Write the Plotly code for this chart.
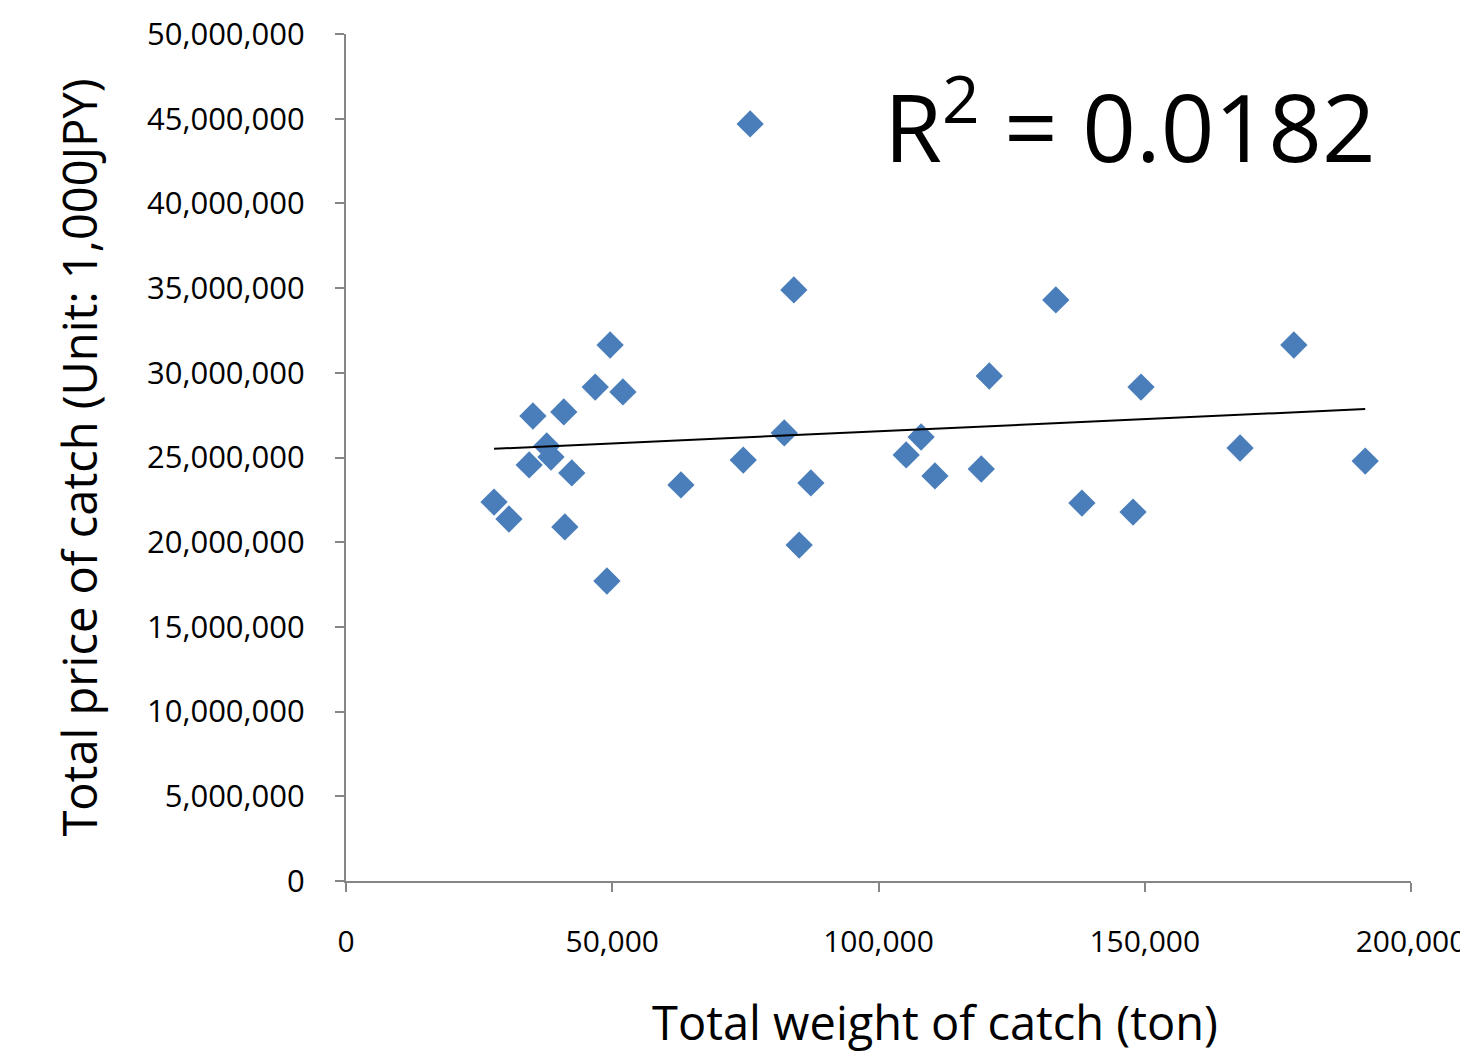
import numpy as np
import plotly.graph_objects as go

# Total weight of catch (ton)
weight = [27800, 30600, 35100, 34400, 37700, 38500, 40900, 42400, 41100, 46800,
          49600, 52000, 49000, 62900, 74600, 75900, 82300, 84100, 85100, 87300,
          133300, 120800, 149300, 178000, 108000, 105200, 110600, 119300, 167900,
          191400, 138200, 147800]
# Total price of catch (Unit: 1,000JPY)
price = [22370000, 21370000, 27450000, 24560000, 25680000, 25030000, 27690000,
         24090000, 20900000, 29160000, 31640000, 28870000, 17710000, 23380000,
         24850000, 44690000, 26450000, 34890000, 19830000, 23500000, 34300000,
         29810000, 29160000, 31640000, 26210000, 25150000, 23910000, 24320000,
         25560000, 24790000, 22310000, 21780000]

x_ticks = [0, 50000, 100000, 150000, 200000]
y_ticks = list(range(0, 50000001, 5000000))
x_title = "Total weight of catch (ton)"
y_title = "Total price of catch (Unit: 1,000JPY)"
r2_text = "R<sup>2</sup> = 0.0182"

# linear trendline from the data
slope, intercept = np.polyfit(weight, price, 1)
tx = np.array([min(weight), max(weight)])
ty = slope * tx + intercept

font = "Open Sans"
axis_col = "#868686"

fig = go.Figure()
fig.add_trace(go.Scatter(
    x=weight, y=price, mode="markers",
    marker=dict(symbol="diamond", size=21, color="#4A7EBB",
                line=dict(width=0)),
    showlegend=False, hoverinfo="skip"))
fig.add_trace(go.Scatter(
    x=tx, y=ty, mode="lines", line=dict(color="black", width=2),
    showlegend=False, hoverinfo="skip"))

fig.update_layout(
    width=1468, height=1059,
    paper_bgcolor="white", plot_bgcolor="white",
    margin=dict(l=338, r=65, t=26, b=186, autoexpand=False),
    font=dict(family=font, color="black"),
    xaxis=dict(range=[0, 200000], tickvals=x_ticks,
               ticktext=[f"{v:,}" for v in x_ticks],
               showgrid=False, zeroline=False, showline=True,
               linecolor=axis_col, linewidth=2, ticks="outside",
               ticklen=9, tickwidth=2, tickcolor=axis_col,
               tickfont=dict(size=30, family=font, color="black"),
               ticklabelstandoff=24),
    yaxis=dict(range=[0, 50000000], tickvals=y_ticks,
               ticktext=[f"{v:,}" for v in y_ticks],
               showgrid=False, zeroline=False, showline=True,
               linecolor=axis_col, linewidth=2, ticks="outside",
               ticklen=9, tickwidth=2, tickcolor=axis_col,
               tickfont=dict(size=31, family=font, color="black"),
               ticklabelstandoff=24,
               title=dict(text=y_title,
                          font=dict(size=47, family=font, color="black"),
                          standoff=34)),
    annotations=[
        dict(text=r2_text, xref="paper", yref="paper",
             x=(1130 - 346) / 1065, y=(881 - 121) / 847,
             xanchor="center", yanchor="middle", showarrow=False,
             font=dict(size=94, family=font, color="black")),
        dict(text=x_title, xref="paper", yref="paper",
             x=(935 - 346) / 1065, y=(881 - 1022) / 847,
             xanchor="center", yanchor="middle", showarrow=False,
             font=dict(size=47, family=font, color="black")),
    ],
)

fig.write_html("out.html")
